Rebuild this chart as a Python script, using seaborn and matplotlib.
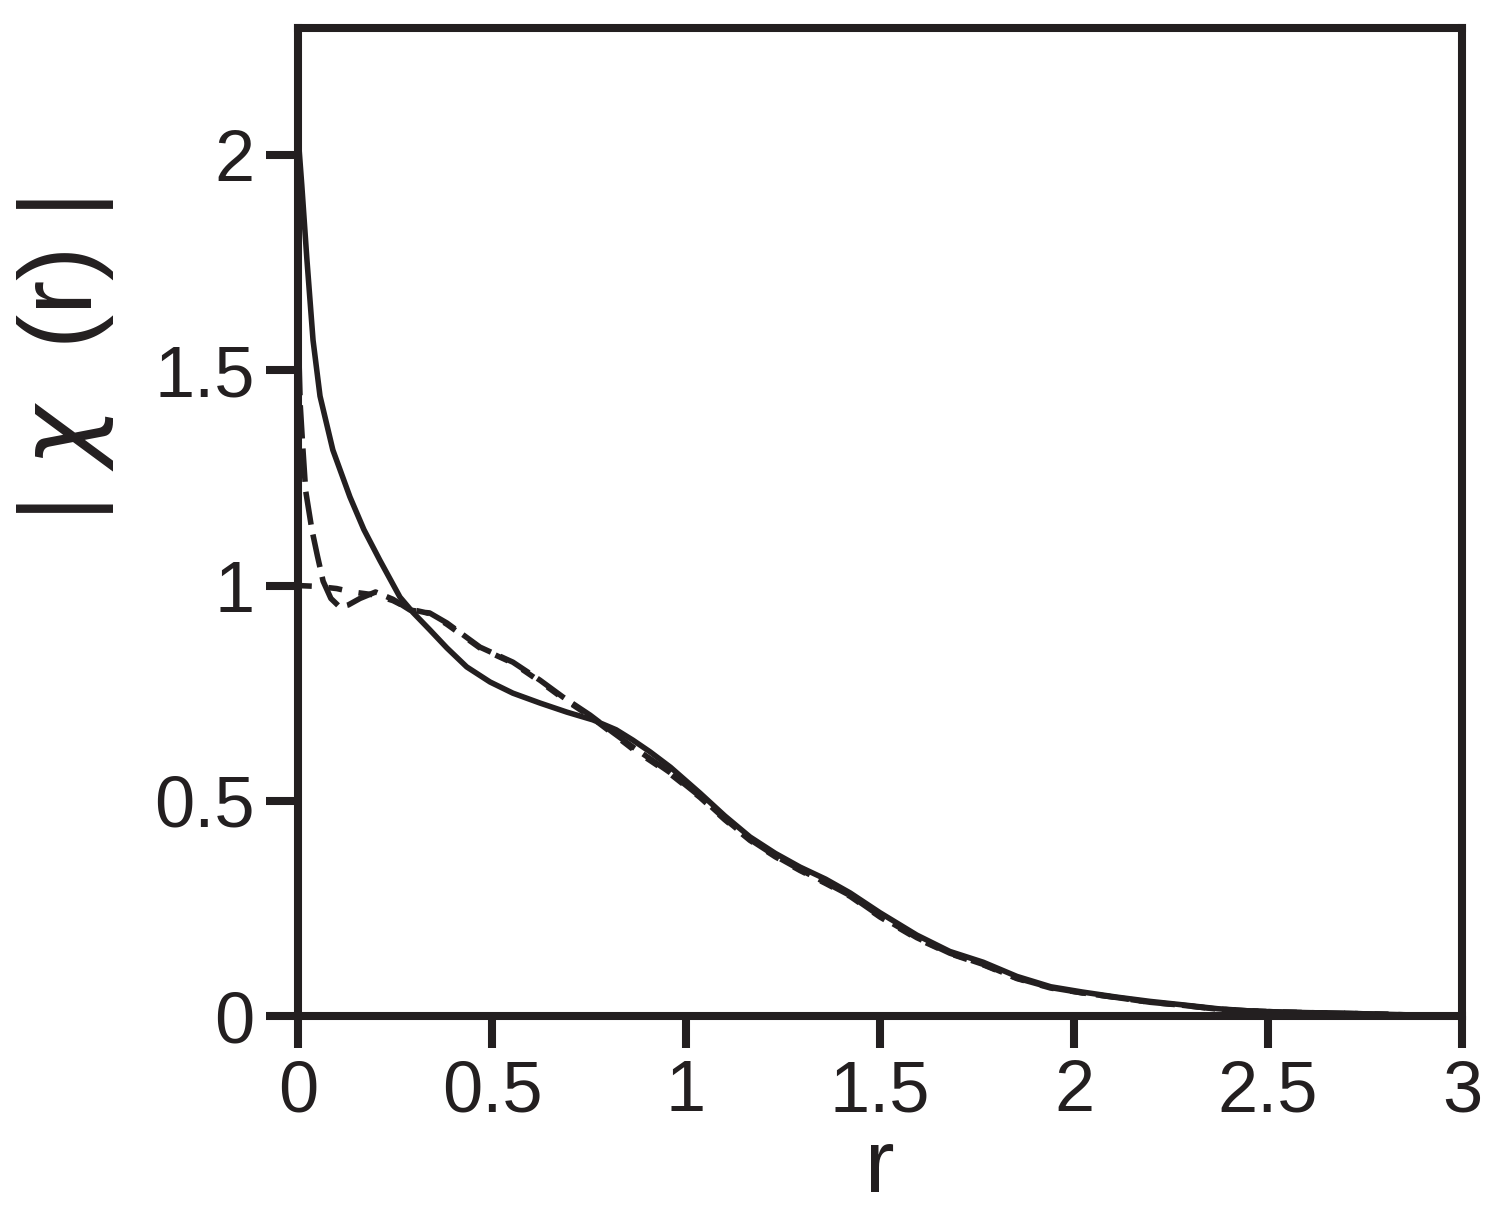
import numpy as np
import pandas as pd
import seaborn as sns
import matplotlib.pyplot as plt

# solid curve
r_solid = [0.0, 0.01, 0.023, 0.039, 0.057, 0.09, 0.134, 0.17, 0.211, 0.263, 0.296, 0.34,
           0.384, 0.435, 0.495, 0.554, 0.624, 0.693, 0.76, 0.82, 0.863, 0.907, 0.96, 1.036,
           1.1, 1.165, 1.23, 1.294, 1.36, 1.423, 1.5, 1.595, 1.68, 1.766, 1.853, 1.94, 2.02,
           2.11, 2.196, 2.28, 2.37, 2.45, 2.54, 2.71, 2.85, 3.0]
chi_solid = [2.05, 1.93, 1.76, 1.57, 1.44, 1.315, 1.206, 1.13, 1.059, 0.973, 0.938, 0.897,
             0.855, 0.811, 0.776, 0.75, 0.727, 0.706, 0.688, 0.665, 0.641, 0.614, 0.578, 0.518,
             0.465, 0.416, 0.378, 0.346, 0.318, 0.286, 0.24, 0.188, 0.15, 0.125, 0.092, 0.068, 0.056,
             0.044, 0.034, 0.026, 0.017, 0.012, 0.009, 0.006, 0.003, 0.001]

# long dashed curve
r_dash = [0.0, 0.006, 0.012, 0.02, 0.036, 0.05, 0.065, 0.085, 0.108, 0.13, 0.16, 0.2, 0.245,
          0.289, 0.34, 0.384, 0.469, 0.554, 0.624, 0.683, 0.753, 0.81, 0.863, 0.907, 0.96, 1.036,
          1.1, 1.165, 1.23, 1.294, 1.36, 1.423, 1.5, 1.595, 1.68, 1.766, 1.853, 1.94, 2.02, 2.11,
          2.196, 2.28, 2.37, 2.45, 2.54, 2.71, 2.85, 3.0]
chi_dash = [1.62, 1.42, 1.33, 1.22, 1.13, 1.07, 1.01, 0.97, 0.95, 0.955, 0.97, 0.985, 0.968,
            0.943, 0.936, 0.913, 0.857, 0.822, 0.78, 0.741, 0.699, 0.66, 0.625, 0.598, 0.565, 0.51,
            0.458, 0.41, 0.372, 0.34, 0.31, 0.28, 0.232, 0.182, 0.146, 0.12, 0.088, 0.066, 0.054, 0.043,
            0.032, 0.025, 0.016, 0.012, 0.009, 0.006, 0.003, 0.001]

# short dashed curve
r_dot = [0.0, 0.05, 0.1, 0.14, 0.2, 0.245, 0.289, 0.34, 0.384, 0.469, 0.554, 0.624, 0.683,
         0.753, 0.81, 0.863, 0.907, 0.96, 1.036, 1.1, 1.165, 1.23, 1.294, 1.36, 1.423, 1.5,
         1.595, 1.68, 1.766, 1.853, 1.94, 2.02, 2.11, 2.196, 2.28, 2.37, 2.45, 2.54, 2.71,
         2.85, 3.0]
chi_dot = [1.0, 0.998, 0.993, 0.985, 0.978, 0.965, 0.945, 0.935, 0.91, 0.855, 0.82, 0.777,
           0.738, 0.696, 0.657, 0.62, 0.594, 0.562, 0.508, 0.456, 0.408, 0.37, 0.338, 0.308, 0.278,
           0.23, 0.18, 0.145, 0.119, 0.087, 0.065, 0.054, 0.043, 0.032, 0.025, 0.016, 0.012, 0.009,
           0.006, 0.003, 0.001]

x_ticks = [0, 0.5, 1, 1.5, 2, 2.5, 3]
x_ticklabels = ['0', '0.5', '1', '1.5', '2', '2.5', '3']
y_ticks = [0, 0.5, 1, 1.5, 2]
y_ticklabels = ['0', '0.5', '1', '1.5', '2']

ink = '#231f20'

sns.set_style("ticks")
plt.rcParams['font.family'] = ['Liberation Sans', 'DejaVu Sans']
plt.rcParams['mathtext.fontset'] = 'dejavusans'

fig = plt.figure(figsize=(14.97, 12.09), dpi=100)
ax = fig.add_axes([0.199, 0.1596, 0.7777, 0.8172])

sns.lineplot(x=r_solid, y=chi_solid, ax=ax, color=ink, lw=4.0, sort=False)
sns.lineplot(x=r_dash, y=chi_dash, ax=ax, color=ink, lw=4.0, sort=False,
             linestyle=(0, (6, 1.8)))
sns.lineplot(x=r_dot, y=chi_dot, ax=ax, color=ink, lw=4.0, sort=False,
             linestyle=(0, (2.5, 3)))

ax.set_xlim(0, 3)
ax.set_ylim(0, 2.295)
ax.set_xticks(x_ticks)
ax.set_xticklabels(x_ticklabels)
ax.set_yticks(y_ticks)
ax.set_yticklabels(y_ticklabels)

for s in ax.spines.values():
    s.set_visible(True)
    s.set_linewidth(5.8)
    s.set_color(ink)

ax.tick_params(axis='both', direction='out', length=23, width=5.8, color=ink,
               labelsize=52, labelcolor=ink, pad=8)

ax.set_xlabel('r', fontsize=64, color=ink, labelpad=1)
ax.set_ylabel('| $\\chi$  (r) |', fontsize=74, color=ink)
ax.yaxis.set_label_coords(-0.156, 0.664)

fig.savefig('out.png', dpi=100)
